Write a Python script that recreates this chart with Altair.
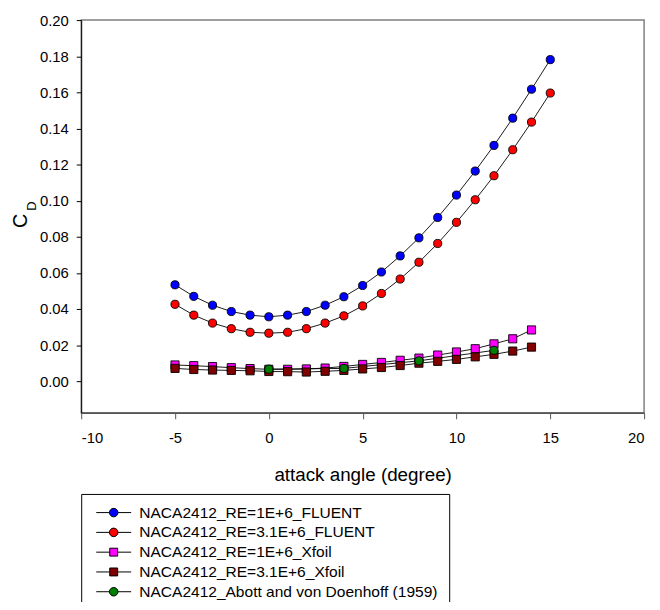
import altair as alt
import pandas as pd

# ---------------- data ----------------
series_names = [
    "NACA2412_RE=1E+6_FLUENT",
    "NACA2412_RE=3.1E+6_FLUENT",
    "NACA2412_RE=1E+6_Xfoil",
    "NACA2412_RE=3.1E+6_Xfoil",
    "NACA2412_Abott and von Doenhoff (1959)",
]
fill_colors = ["#0000ff", "#ff0000", "#ff00ff", "#800000", "#008000"]
point_shapes = ["circle", "circle", "square", "square", "circle"]

angles_fluent = [-5, -4, -3, -2, -1, 0, 1, 2, 3, 4, 5, 6, 7, 8, 9, 10, 11, 12, 13, 14, 15]
cd_fluent_1e6 = [0.0534, 0.0470, 0.0421, 0.0386, 0.0366, 0.0357, 0.0366, 0.0386, 0.0421, 0.0468,
                 0.0530, 0.0605, 0.0694, 0.0794, 0.0907, 0.1031, 0.1164, 0.1306, 0.1457, 0.1617, 0.1781]
cd_fluent_31e6 = [0.0426, 0.0366, 0.0322, 0.0291, 0.0271, 0.0266, 0.0271, 0.0291, 0.0322, 0.0362,
                  0.0417, 0.0486, 0.0566, 0.0659, 0.0763, 0.0880, 0.1005, 0.1138, 0.1282, 0.1435, 0.1596]

angles_xfoil = [-5, -4, -3, -2, -1, 0, 1, 2, 3, 4, 5, 6, 7, 8, 9, 10, 11, 12, 13, 14]
cd_xfoil_1e6 = [0.0090, 0.0086, 0.0081, 0.0075, 0.0070, 0.0066, 0.0066, 0.0068, 0.0073, 0.0082,
                0.0093, 0.0104, 0.0116, 0.0128, 0.0145, 0.0162, 0.0180, 0.0207, 0.0235, 0.0284]
cd_xfoil_31e6 = [0.0071, 0.0065, 0.0062, 0.0060, 0.0058, 0.0054, 0.0053, 0.0051, 0.0055, 0.0060,
                 0.0068, 0.0076, 0.0087, 0.0100, 0.0110, 0.0121, 0.0135, 0.0149, 0.0167, 0.0189]

angles_exp = [0, 4, 8, 12]
cd_exp = [0.0067, 0.0071, 0.0113, 0.0171]

x_ticks = [-10, -5, 0, 5, 10, 15, 20]
y_ticks = [0.0, 0.02, 0.04, 0.06, 0.08, 0.10, 0.12, 0.14, 0.16, 0.18, 0.20]

# legend symbols: line through a marker (unit coords scaled by sqrt(size)/2)
legend_paths = [
    "M-4.1,0L-1,0M1,0L4.1,0M1,0A1,1 0 1 1 -1,0A1,1 0 1 1 1,0Z",
    "M-4.1,0L-1,0M1,0L4.1,0M1,0A1,1 0 1 1 -1,0A1,1 0 1 1 1,0Z",
    "M-4.1,0L-0.93,0M0.93,0L4.1,0M-0.93,-0.93L0.93,-0.93L0.93,0.93L-0.93,0.93Z",
    "M-4.1,0L-0.93,0M0.93,0L4.1,0M-0.93,-0.93L0.93,-0.93L0.93,0.93L-0.93,0.93Z",
    "M-4.1,0L-1,0M1,0L4.1,0M1,0A1,1 0 1 1 -1,0A1,1 0 1 1 1,0Z",
]
outline_colors = ["black", "black", "black", "black", "black"]

rows = []
for name, angs, vals in [
    (series_names[0], angles_fluent, cd_fluent_1e6),
    (series_names[1], angles_fluent, cd_fluent_31e6),
    (series_names[2], angles_xfoil, cd_xfoil_1e6),
    (series_names[3], angles_xfoil, cd_xfoil_31e6),
    (series_names[4], angles_exp, cd_exp),
]:
    for a, v in zip(angs, vals):
        rows.append({"series": name, "angle": a, "cd": v})
df = pd.DataFrame(rows)

FONT = "Liberation Sans"

x_enc = alt.X(
    "angle:Q",
    scale=alt.Scale(domain=[-10, 20], nice=False, zero=False),
    axis=alt.Axis(
        values=x_ticks, labelExpr="'' + datum.value", title="attack angle (degree)",
        titleFontSize=19, titleFontWeight="normal", titlePadding=20, titleColor="black",
        labelFontSize=15, labelColor="black", labelPadding=12, tickSize=6,
        tickColor="#555555", domainColor="#555555", domainWidth=1.5, grid=False,
    ),
)
y_enc = alt.Y(
    "cd:Q",
    scale=alt.Scale(domain=[-0.0175, 0.2], nice=False, zero=False),
    axis=alt.Axis(
        values=y_ticks, format=".2f", title=None,
        labelFontSize=15, labelColor="black", labelPadding=8, tickSize=5,
        tickColor="black", domainColor="black", domainWidth=1, grid=False,
    ),
)

lines = alt.Chart(df).mark_line(color="black", strokeWidth=0.9).encode(
    x=x_enc, y=y_enc, detail="series:N", order="angle:Q"
)

points = alt.Chart(df).mark_point(
    filled=True, opacity=1, stroke="black", strokeWidth=0.9, size=68
).encode(
    x=x_enc, y=y_enc,
    fill=alt.Fill("series:N", scale=alt.Scale(domain=series_names, range=fill_colors), legend=None),
    shape=alt.Shape("series:N", scale=alt.Scale(domain=series_names, range=point_shapes), legend=None),
)

leg = alt.Legend(
    title=None, orient="none", legendX=0, legendY=479, padding=11,
    strokeColor="black", fillColor="white", cornerRadius=0,
    labelFontSize=15.7, labelFont=FONT, labelColor="black", labelLimit=500,
    symbolSize=74, symbolStrokeWidth=1,
    symbolOffset=14, labelOffset=18, rowPadding=3,
)
legend_layer = alt.Chart(df).transform_filter("false").mark_point(
    filled=True, opacity=1, strokeWidth=1
).encode(
    fill=alt.Fill("series:N", scale=alt.Scale(domain=series_names, range=fill_colors), legend=leg),
    shape=alt.Shape("series:N", scale=alt.Scale(domain=series_names, range=legend_paths), legend=leg),
    stroke=alt.Stroke("series:N", scale=alt.Scale(domain=series_names, range=outline_colors), legend=leg),
)

title_c = alt.Chart(pd.DataFrame({"t": ["C"]})).mark_text(
    angle=270, fontSize=20, font=FONT, color="black", align="center", baseline="middle"
).encode(x=alt.value(-61), y=alt.value(203), text="t:N")
title_d = alt.Chart(pd.DataFrame({"t": ["D"]})).mark_text(
    angle=270, fontSize=13, font=FONT, color="black", align="center", baseline="middle"
).encode(x=alt.value(-50), y=alt.value(188), text="t:N")

chart = alt.layer(lines, points, legend_layer, title_c, title_d).resolve_scale(
    fill="independent", shape="independent", stroke="independent"
).properties(
    width=569, height=397,
    autosize=alt.AutoSizeParams(type="none"),
    padding={"left": 74, "top": 9, "right": 8, "bottom": 188},
).configure(font=FONT).configure_view(stroke="#7f7f7f", strokeWidth=1.5)

chart.save("out.html", embed_options={"renderer": "svg", "actions": False})
